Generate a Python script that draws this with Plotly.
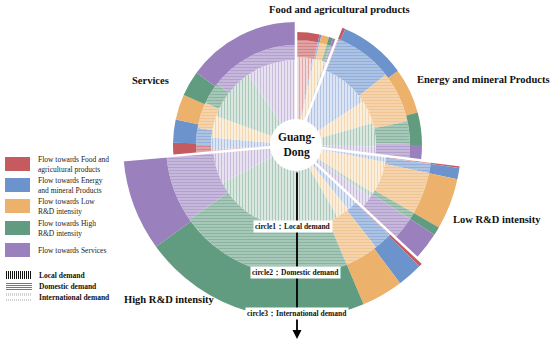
import plotly.graph_objects as go

# ---------------- data ----------------
sectors = ["Food and agricultural products", "Energy and mineral Products",
           "Low R&D intensity", "High R&D intensity", "Services"]
flow_names = ["Flow towards Food and<br>agricultural products",
              "Flow towards Energy<br>and mineral Products",
              "Flow towards Low<br>R&D intensity",
              "Flow towards High<br>R&D intensity",
              "Flow towards Services"]
ring_names = ["Local demand", "Domestic demand", "International demand"]
circle_labels = ["circle1：Local demand", "circle2：Domestic demand", "circle3：International demand"]

# angular share (degrees) of each flow inside each sector
# rows = sectors, cols = flows (Food, Energy, Low, High, Services)
local_share = [
    [11, 1, 7, 1, 1],
    [1, 35, 17, 17, 6],
    [1, 3, 21, 3, 8],
    [1, 7, 9, 93, 22],
    [2, 8, 15, 36, 34],
]
domestic_share = [
    [12, 1, 4, 2, 2],
    [1, 30, 26, 11, 8],
    [1, 4, 18, 3, 10],
    [1, 8, 15, 78, 30],
    [5, 10, 15, 13, 52],
]
international_share = [
    [12, 1, 4, 2, 2],
    [2, 31, 21, 15, 7],
    [1, 4, 18, 3, 10],
    [1.5, 8.5, 14, 77, 31],
    [6, 11, 12, 12, 54],
]
# radial depth of each ring per sector
local_depth = [63, 55, 66, 58, 60]
domestic_depth = [17, 34, 45, 47, 15]
international_depth = [8, 12, 29, 43, 23]

# ---------------- style ----------------
flow_colors = ["#C55A5F", "#6D93CC", "#ECB26C", "#629C80", "#9A80BD"]
HOLE = 25
SERIF = "Liberation Serif"
W, H = 550, 342
CX, CY = 296, 145  # centre of the wheel (page pixels)
R_UP, R_LOW = 130, 175


def mix(hex_color, t):
    h = hex_color.lstrip("#")
    r, g, b = (int(h[i:i + 2], 16) for i in (0, 2, 4))
    r = round(r + (255 - r) * t)
    g = round(g + (255 - g) * t)
    b = round(b + (255 - b) * t)
    return f"rgb({r},{g},{b})"


def px(x):
    return x / W


def py(y):
    return 1 - y / H


fig = go.Figure()

sector_width = [sum(row) for row in international_share]
sector_start = [sum(sector_width[:i]) for i in range(len(sectors))]

rings = [(local_share, local_depth, "|"),
         (domestic_share, domestic_depth, "-"),
         (international_share, international_depth, "")]

for sub in ("polar", "polar2"):
    base = [HOLE] * len(sectors)
    for ring_idx, (share, depth, shape) in enumerate(rings):
        for j, col in enumerate(flow_colors):
            th, wd, bs, rr = [], [], [], []
            for s in range(len(sectors)):
                w = share[s][j]
                if w <= 0:
                    continue
                start = sector_start[s] + sum(share[s][:j])
                th.append(start + w / 2)
                wd.append(w)
                bs.append(base[s])
                rr.append(depth[s])
            if shape == "|":
                marker = dict(color=mix(col, 0.75), line=dict(width=0),
                              pattern=dict(shape="|", fgcolor=mix(col, 0.12), bgcolor=mix(col, 0.8),
                                           size=3, solidity=0.4))
            elif shape == "-":
                marker = dict(color=mix(col, 0.45), line=dict(width=0),
                              pattern=dict(shape="-", fgcolor=mix(col, 0.0), bgcolor=mix(col, 0.5),
                                           size=3, solidity=0.5))
            else:
                marker = dict(color=col, line=dict(width=0))
            fig.add_trace(go.Barpolar(theta=th, width=wd, base=bs, r=rr, marker=marker,
                                      name=f"{flow_names[j]} - {ring_names[ring_idx]}",
                                      subplot=sub, showlegend=False, hoverinfo="skip"))
        base = [base[s] + depth[s] for s in range(len(sectors))]

outer = base[:]

# white separators between sectors
sep = {"polar": ([], []), "polar2": ([], [])}
for s in range(len(sectors)):
    ang = sector_start[s] % 360
    sub = "polar2" if 90 < ang < 270 else "polar"
    rmax = max(outer[s - 1], outer[s]) + 1
    sep[sub][0].extend([HOLE, rmax, None])
    sep[sub][1].extend([ang, ang, None])
for sub, (rs, ts) in sep.items():
    fig.add_trace(go.Scatterpolar(r=rs, theta=ts, mode="lines", connectgaps=False, subplot=sub,
                                  line=dict(color="white", width=2.5), showlegend=False,
                                  hoverinfo="skip", cliponaxis=True))

common_axes = dict(
    bgcolor="rgba(0,0,0,0)",
    angularaxis=dict(visible=False, direction="clockwise", rotation=90),
)
fig.update_layout(
    width=W, height=H, margin=dict(l=0, r=0, t=0, b=0),
    paper_bgcolor="white", plot_bgcolor="white",
    polar=dict(domain=dict(x=[px(CX - R_UP), px(CX + R_UP)], y=[py(CY), py(CY - R_UP)]),
               sector=[0, 180], radialaxis=dict(range=[0, R_UP], visible=False), **common_axes),
    polar2=dict(domain=dict(x=[px(CX - R_LOW), px(CX + R_LOW)], y=[py(CY + R_LOW), py(CY)]),
                sector=[180, 360], radialaxis=dict(range=[0, R_LOW], visible=False), **common_axes),
    showlegend=False,
)

shapes = []
ann = []

# centre disc and arrow
shapes.append(dict(type="circle", xref="paper", yref="paper", layer="above",
                   x0=px(CX - 26), x1=px(CX + 26), y0=py(CY + 26), y1=py(CY - 26),
                   fillcolor="white", line=dict(width=0)))
ann.append(dict(x=px(CX), y=py(CY), text="<b>Guang-<br>Dong</b>", showarrow=False,
                font=dict(family=SERIF, size=11.5, color="#111"), xanchor="center", yanchor="middle"))
ann.append(dict(x=px(CX + 1), y=py(339), xref="paper", yref="paper", text="",
                showarrow=True, ax=0, ay=-(339 - CY - 26), arrowhead=2, arrowsize=1,
                arrowwidth=1.8, arrowcolor="black", standoff=0, startstandoff=0))

# sector titles
title_pos = [(339, 10), (483, 79), (497, 219), (169, 299), (150, 80)]
for name, (x, y) in zip(sectors, title_pos):
    ann.append(dict(x=px(x), y=py(y), text=f"<b>{name}</b>", showarrow=False,
                    font=dict(family=SERIF, size=10.5, color="#111"),
                    xanchor="center", yanchor="middle"))
# circle labels
circ_pos = [(293, 226), (295, 272), (297, 313)]
for lab, (x, y) in zip(circle_labels, circ_pos):
    ann.append(dict(x=px(x), y=py(y), text=f"<b>{lab}</b>", showarrow=False,
                    font=dict(family=SERIF, size=7.5, color="#111"), bgcolor="white",
                    borderpad=1, xanchor="center", yanchor="middle"))

# legend (colour swatches)
sw_y = [164, 185, 206, 228, 250]
for name, col, yc in zip(flow_names, flow_colors, sw_y):
    shapes.append(dict(type="rect", xref="paper", yref="paper",
                       x0=px(5), x1=px(30), y0=py(yc - 7), y1=py(yc + 7),
                       fillcolor=col, line=dict(width=0)))
    ann.append(dict(x=px(36), y=py(yc), text=name, showarrow=False, align="left",
                    font=dict(family=SERIF, size=7.5, color="#222"),
                    xanchor="left", yanchor="middle"))

# legend (pattern swatches)
pat_y = [275, 286, 297]
for k in range(13):
    xx = 6.5 + k * 2
    shapes.append(dict(type="line", xref="paper", yref="paper",
                       x0=px(xx), x1=px(xx), y0=py(271), y1=py(279),
                       line=dict(color="#111", width=1)))
    shapes.append(dict(type="line", xref="paper", yref="paper",
                       x0=px(xx), x1=px(xx), y0=py(293), y1=py(301),
                       line=dict(color="#d0d0d0", width=1, dash="dot")))
for k in range(4):
    yy = 283.5 + k * 2
    shapes.append(dict(type="line", xref="paper", yref="paper",
                       x0=px(6), x1=px(32), y0=py(yy), y1=py(yy),
                       line=dict(color="#555", width=0.8)))
for name, yc in zip(ring_names, pat_y):
    ann.append(dict(x=px(37), y=py(yc), text=f"<b>{name}</b>", showarrow=False,
                    font=dict(family=SERIF, size=7.5, color="#111"),
                    xanchor="left", yanchor="middle"))

fig.update_layout(annotations=ann, shapes=shapes)
fig.write_html("out.html", config={"displayModeBar": False},
               post_script="document.body.style.margin='0px';document.body.style.overflow='hidden';")
